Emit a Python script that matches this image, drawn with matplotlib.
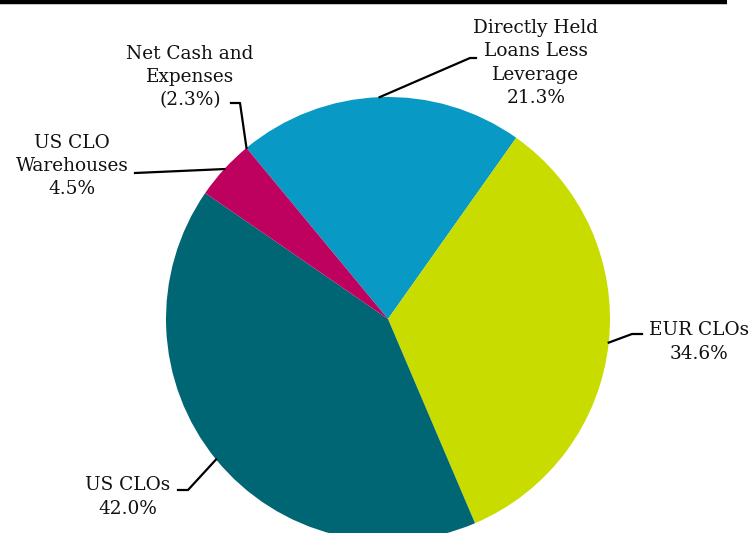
import numpy as np
import matplotlib
matplotlib.use("Agg")
import matplotlib.pyplot as plt

# slices shown in the pie (clockwise from the top-left)
categories = ["Directly Held\nLoans Less\nLeverage", "EUR CLOs", "US CLOs", "US CLO\nWarehouses"]
values = [21.3, 34.6, 42.0, 4.5]
colors = ["#0899C4", "#C9DC00", "#006674", "#BE005E"]
# negative item, shown only as a label at a slice boundary
net_cash_label = "Net Cash and\nExpenses"
net_cash_value = -2.3

W, H = 753, 533
fig = plt.figure(figsize = (W / 100.0, H / 100.0), dpi = 100)
ax = fig.add_axes([0, 0, 1, 1])

cx, cy, r = 388, H - 319, 222
start = 129.6
wedges, _ = ax.pie(values, colors = colors, startangle = start, counterclock = False,
    center = (cx, cy), radius = r, frame = True,
    wedgeprops = dict(linewidth = 0))

ax.set_xlim(0, W)
ax.set_ylim(0, H)
ax.set_aspect("equal")
ax.axis("off")

# top rule
ax.plot([0, 727], [H - 1.5, H - 1.5], color = "black", lw = 3.2, solid_capstyle = "butt")

font = dict(family = "DejaVu Serif", fontsize = 13.3, color = "#111111", linespacing = 1.38)

def edge_point(angle) :
    a = np.deg2rad(angle)
    return cx + r * np.cos(a), cy + r * np.sin(a)

def mid_angle(w) :
    return 0.5 * (w.theta1 + w.theta2)

# label layout: (text center x, text center y in px from top, leader path from pie outward)
labels = [
    (536, 63, [(470, H - 58), (476, H - 58)]),
    (699, 342, [(632, H - 334), (642, H - 334)]),
    (128, 497, [(188, H - 490), (178, H - 490)]),
    (72, 166, [(135, H - 173)]),
]

for iw, w in enumerate(wedges) :
    tx, ty, path = labels[iw]
    px, py = edge_point(mid_angle(w))
    xs = [px] + [p[0] for p in path]
    ys = [py] + [p[1] for p in path]
    ax.plot(xs, ys, color = "black", lw = 1.6)
    txt = "%s\n%.1f%%" % (categories[iw], values[iw])
    ax.text(tx, H - ty, txt, ha = "center", va = "center", **font)

# net cash label at the boundary between warehouses and directly held loans
px, py = edge_point(start)
ax.plot([px, 240, 231], [py, H - 103, H - 103], color = "black", lw = 1.6)
ax.text(190, H - 77, "%s\n(%.1f%%)" % (net_cash_label, -net_cash_value),
    ha = "center", va = "center", **font)

fig.savefig("out.png", dpi = 100)
